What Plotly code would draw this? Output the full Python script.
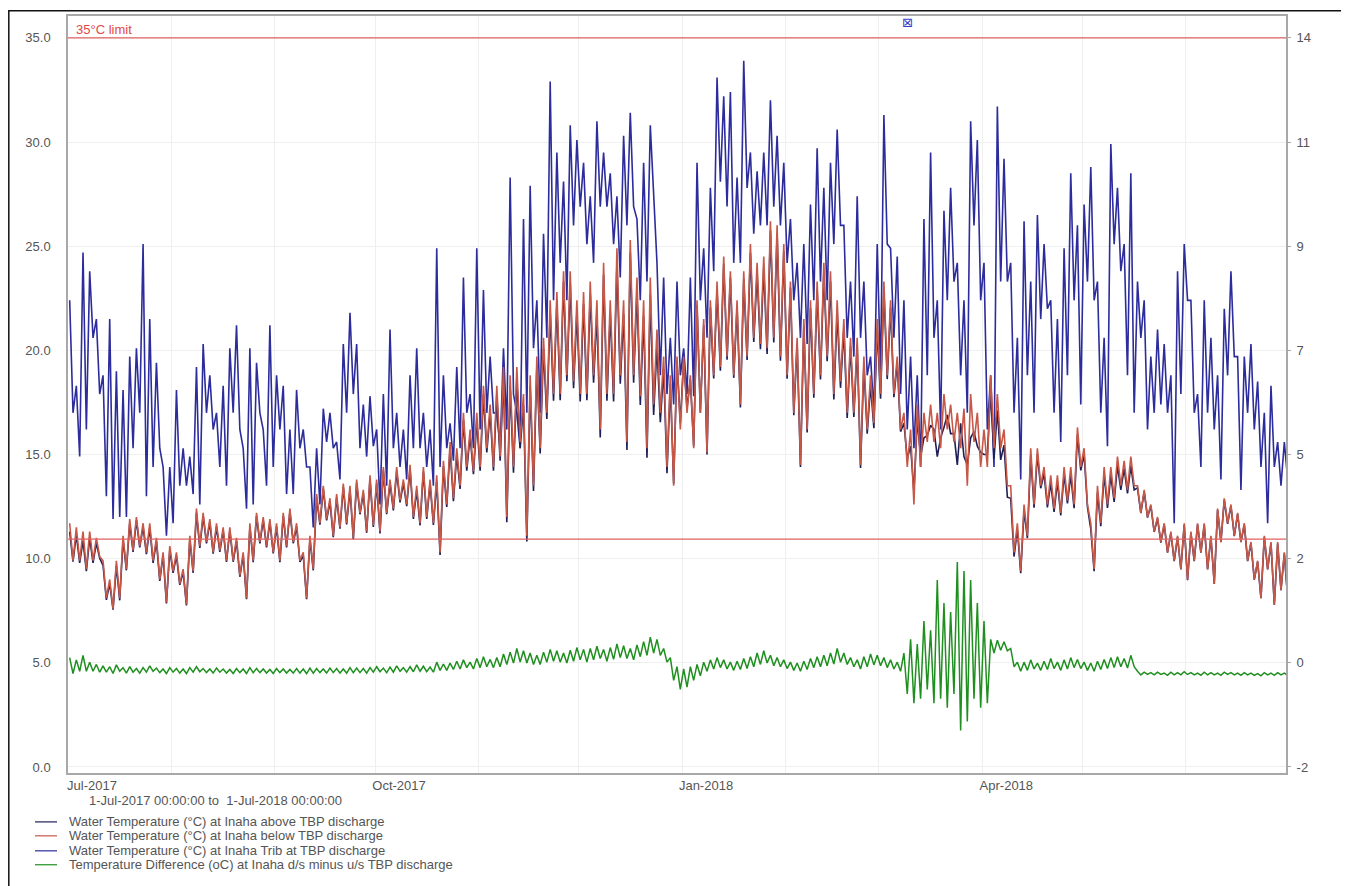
import pandas as pd
import plotly.graph_objects as go

# ---------------- data (2-day bins: daily-cycle high / low) ----------------
START = "2017-07-01"
END = "2018-07-01"
BIN_DAYS = 2

# Water Temperature (°C) at Inaha Trib at TBP discharge
trib_hi = [
    22.4, 18.3, 24.7, 23.8, 21.5, 18.8, 21.5, 19.0, 18.1, 19.7,
    20.1, 25.1, 21.5, 19.4, 14.4, 14.4, 18.1, 15.3, 14.9, 19.2,
    20.3, 18.8, 17.0, 18.3, 20.1, 21.2, 15.3, 20.1, 19.4, 16.2,
    21.2, 18.8, 18.3, 16.2, 18.1, 16.2, 14.4, 15.3, 17.2, 17.0,
    15.6, 20.3, 21.8, 20.3, 17.4, 17.8, 16.2, 17.9, 21.0, 17.0,
    16.2, 18.8, 20.1, 17.0, 16.2, 24.9, 18.8, 16.5, 19.2, 23.5,
    17.9, 24.9, 22.9, 19.7, 17.0, 20.1, 28.3, 17.0, 26.3, 27.9,
    22.4, 25.6, 32.9, 29.5, 28.1, 30.8, 30.1, 29.0, 27.4, 31.0,
    29.5, 28.5, 27.4, 30.3, 31.4, 26.3, 29.0, 30.8, 24.2, 23.5,
    20.6, 23.3, 20.1, 23.5, 29.0, 24.9, 27.8, 33.1, 32.2, 32.4,
    28.3, 33.9, 29.5, 28.6, 29.5, 32.0, 30.3, 29.0, 26.3, 24.2,
    25.1, 27.0, 29.7, 27.8, 29.0, 30.6, 26.0, 23.3, 27.4, 23.3,
    19.7, 25.1, 31.3, 24.9, 24.5, 22.4, 19.7, 18.8, 26.3, 29.5,
    22.4, 26.7, 27.8, 24.2, 22.4, 31.0, 30.1, 24.2, 18.8, 31.7,
    29.2, 24.2, 20.6, 26.2, 23.3, 26.5, 25.1, 22.4, 21.5, 24.9,
    28.5, 26.0, 27.0, 28.8, 23.3, 20.6, 29.9, 27.8, 25.1, 28.5,
    23.3, 22.4, 19.7, 21.0, 20.3, 18.8, 23.8, 25.1, 22.4, 17.9,
    22.4, 20.6, 18.8, 22.0, 23.8, 19.7, 19.7, 20.3, 18.5, 17.0,
    18.3, 15.6, 15.6,
]
trib_lo = [
    17.0, 14.9, 16.2, 20.6, 17.9, 13.0, 11.9, 12.0, 12.0, 15.3,
    17.0, 13.0, 14.4, 15.3, 11.1, 11.7, 13.5, 13.5, 13.1, 12.6,
    17.0, 16.2, 14.4, 13.5, 17.0, 16.2, 12.4, 12.6, 17.0, 13.5,
    14.4, 16.2, 13.1, 13.1, 15.3, 14.4, 11.5, 12.6, 15.6, 15.3,
    13.8, 17.0, 17.9, 15.3, 14.9, 15.4, 12.6, 13.5, 15.3, 14.4,
    13.8, 15.3, 15.3, 14.4, 13.5, 14.4, 15.3, 14.7, 15.3, 17.0,
    15.3, 16.2, 17.0, 17.0, 15.3, 16.2, 17.9, 15.3, 17.0, 20.1,
    17.0, 20.6, 22.4, 24.2, 22.4, 26.0, 26.9, 25.1, 24.2, 26.9,
    26.9, 25.1, 23.5, 26.0, 26.9, 22.4, 23.3, 27.8, 18.8, 17.9,
    17.4, 18.8, 17.9, 17.8, 22.4, 20.6, 23.8, 28.1, 26.9, 24.2,
    24.2, 27.8, 25.6, 26.0, 26.0, 26.9, 26.0, 24.2, 22.4, 20.6,
    20.3, 22.4, 23.3, 22.4, 25.1, 26.0, 20.6, 19.7, 20.6, 18.8,
    17.0, 18.8, 25.1, 20.6, 17.9, 16.2, 15.3, 14.4, 18.8, 20.6,
    16.2, 22.4, 23.3, 18.8, 17.0, 26.0, 22.4, 16.2, 14.4, 23.3,
    23.3, 17.0, 13.8, 18.8, 17.0, 21.5, 22.0, 17.0, 15.6, 18.8,
    22.4, 17.4, 23.3, 22.4, 17.0, 15.4, 25.1, 23.8, 18.8, 17.0,
    20.6, 16.2, 17.0, 17.4, 17.0, 11.7, 17.9, 22.4, 17.0, 14.4,
    17.0, 16.2, 13.8, 18.8, 19.7, 13.3, 17.0, 16.2, 14.4, 11.7,
    14.4, 13.5, 13.8,
]

# Water Temperature (°C) at Inaha below TBP discharge
below_hi = [
    11.7, 11.5, 11.3, 11.3, 11.0, 9.9, 9.0, 9.9, 11.1, 11.9,
    12.0, 11.7, 11.7, 11.0, 10.3, 10.6, 10.3, 9.5, 11.1, 12.4,
    12.2, 11.9, 11.7, 11.5, 11.5, 11.0, 10.3, 11.7, 12.2, 12.0,
    11.9, 11.7, 12.2, 12.4, 11.7, 10.3, 11.1, 13.1, 13.5, 12.9,
    13.1, 13.6, 13.5, 13.8, 13.3, 14.0, 13.8, 14.4, 13.8, 14.4,
    13.8, 14.5, 13.5, 14.4, 13.8, 14.0, 14.7, 15.6, 15.3, 17.0,
    16.2, 17.0, 18.3, 17.4, 18.3, 19.2, 18.8, 19.2, 17.9, 18.8,
    19.7, 20.6, 22.4, 22.8, 23.8, 23.8, 22.4, 22.8, 23.3, 22.4,
    24.2, 22.4, 24.9, 22.4, 25.3, 23.5, 22.4, 23.5, 21.0, 19.7,
    18.8, 19.7, 19.7, 18.8, 22.4, 21.5, 22.4, 23.3, 24.5, 23.8,
    22.4, 23.8, 25.1, 24.2, 24.5, 26.2, 26.0, 25.1, 23.3, 20.6,
    21.5, 22.4, 23.3, 24.2, 23.8, 22.4, 21.5, 20.6, 20.6, 19.7,
    18.8, 21.5, 23.3, 22.4, 19.7, 17.0, 16.2, 17.4, 17.0, 17.4,
    17.0, 17.9, 17.4, 17.0, 17.2, 17.9, 17.0, 16.2, 18.8, 17.9,
    16.2, 13.5, 11.7, 12.6, 15.3, 15.3, 14.4, 14.0, 14.0, 14.4,
    14.4, 16.3, 15.3, 11.7, 13.5, 14.4, 14.4, 14.9, 14.7, 14.9,
    13.5, 13.3, 12.6, 12.0, 11.7, 11.3, 11.1, 11.7, 11.3, 11.7,
    11.7, 11.1, 12.4, 12.9, 12.6, 12.2, 11.7, 10.8, 9.9, 11.1,
    10.8, 10.8, 10.3,
]
below_lo = [
    9.9, 9.9, 9.5, 9.9, 10.1, 8.1, 7.6, 8.1, 9.5, 10.4,
    10.6, 10.3, 9.9, 9.0, 7.9, 9.4, 8.8, 7.8, 9.4, 10.6,
    10.8, 10.3, 10.4, 9.9, 9.9, 9.2, 8.1, 9.9, 10.8, 10.6,
    10.3, 9.9, 10.6, 10.8, 9.9, 8.1, 9.5, 11.7, 11.9, 11.1,
    11.5, 11.7, 11.0, 12.2, 11.3, 11.6, 11.3, 12.2, 12.4, 12.8,
    12.6, 12.0, 11.7, 12.0, 11.7, 10.3, 12.6, 12.9, 13.5, 14.4,
    14.2, 14.4, 15.3, 14.4, 14.9, 12.0, 14.4, 15.6, 11.1, 13.5,
    15.3, 17.0, 17.9, 17.9, 18.8, 18.5, 17.9, 17.9, 18.8, 16.2,
    17.9, 17.9, 18.8, 15.6, 18.8, 17.8, 15.3, 17.4, 17.0, 14.4,
    13.5, 16.2, 17.0, 15.3, 17.0, 15.1, 18.8, 19.2, 19.7, 18.8,
    17.4, 19.7, 20.6, 20.3, 20.1, 20.6, 19.7, 18.8, 17.0, 14.5,
    16.2, 17.9, 18.8, 19.7, 17.9, 18.5, 17.0, 17.0, 14.5, 16.2,
    16.5, 17.9, 18.8, 17.9, 16.2, 14.4, 12.6, 14.4, 15.6, 15.6,
    15.3, 16.2, 15.6, 15.3, 13.5, 15.6, 14.4, 14.4, 15.3, 15.3,
    13.5, 10.3, 9.4, 11.1, 12.6, 13.5, 12.6, 12.4, 12.2, 12.8,
    12.6, 14.4, 12.6, 9.5, 11.7, 12.6, 12.9, 13.5, 13.3, 13.5,
    12.2, 12.0, 11.3, 10.8, 10.3, 9.9, 9.5, 9.0, 9.9, 10.3,
    9.5, 8.8, 10.8, 11.7, 11.1, 10.8, 9.9, 9.0, 8.1, 9.5,
    7.8, 8.5, 8.1,
]

# Temperature Difference (oC) at Inaha d/s minus u/s TBP discharge (right axis)
diff_hi = [
    0.40, 0.35, 0.45, 0.30, 0.25, 0.22, 0.20, 0.24, 0.18, 0.20,
    0.16, 0.18, 0.22, 0.17, 0.15, 0.18, 0.16, 0.15, 0.18, 0.20,
    0.16, 0.15, 0.17, 0.15, 0.14, 0.16, 0.15, 0.18, 0.16, 0.15,
    0.14, 0.16, 0.15, 0.14, 0.16, 0.15, 0.17, 0.16, 0.15, 0.17,
    0.16, 0.15, 0.18, 0.17, 0.16, 0.18, 0.20, 0.17, 0.19, 0.22,
    0.18, 0.20, 0.24, 0.21, 0.19, 0.30, 0.26, 0.28, 0.32, 0.35,
    0.30, 0.38, 0.42, 0.36, 0.40, 0.48, 0.52, 0.60, 0.55, 0.50,
    0.45, 0.52, 0.58, 0.55, 0.50, 0.56, 0.62, 0.58, 0.60, 0.65,
    0.58, 0.62, 0.70, 0.66, 0.60, 0.68, 0.75, 0.85, 0.80, 0.60,
    0.40, 0.20, 0.15, 0.20, 0.25, 0.30, 0.35, 0.40, 0.35, 0.30,
    0.32, 0.38, 0.42, 0.50, 0.55, 0.45, 0.40, 0.35, 0.30, 0.28,
    0.32, 0.38, 0.42, 0.45, 0.50, 0.60, 0.50, 0.40, 0.35, 0.42,
    0.48, 0.45, 0.40, 0.35, 0.30, 0.50, 0.80, 0.70, 1.20, 1.00,
    2.10, 1.60, 1.40, 2.50, 2.30, 2.10, 1.60, 1.20, 0.80, 0.78,
    0.75, 0.60, 0.30, 0.30, 0.35, 0.28, 0.32, 0.38, 0.30, 0.35,
    0.40, 0.36, 0.30, 0.28, 0.32, 0.36, 0.40, 0.42, 0.38, 0.45,
    0.10, 0.08, 0.07, 0.08, 0.06, 0.08, 0.07, 0.09, 0.07, 0.06,
    0.08, 0.07, 0.06, 0.08, 0.07, 0.06, 0.07, 0.06, 0.05, 0.07,
    0.06, 0.07, 0.06,
]
diff_lo = [
    0.05, 0.10, 0.10, 0.10, 0.08, 0.08, 0.05, 0.10, 0.06, 0.08,
    0.06, 0.08, 0.10, 0.07, 0.05, 0.08, 0.06, 0.05, 0.08, 0.09,
    0.07, 0.06, 0.08, 0.06, 0.05, 0.07, 0.05, 0.07, 0.07, 0.06,
    0.05, 0.07, 0.06, 0.06, 0.06, 0.05, 0.06, 0.07, 0.06, 0.07,
    0.06, 0.06, 0.07, 0.07, 0.06, 0.08, 0.09, 0.07, 0.08, 0.10,
    0.08, 0.09, 0.10, 0.09, 0.08, 0.12, 0.12, 0.14, 0.15, 0.18,
    0.15, 0.18, 0.20, 0.18, 0.20, 0.25, 0.28, 0.30, 0.28, 0.25,
    0.25, 0.30, 0.32, 0.30, 0.28, 0.32, 0.35, 0.30, 0.35, 0.38,
    0.32, 0.36, 0.40, 0.38, 0.35, 0.42, 0.45, 0.50, 0.45, 0.30,
    -0.10, -0.30, -0.25, -0.10, 0.00, 0.10, 0.15, 0.18, 0.15, 0.12,
    0.14, 0.16, 0.20, 0.25, 0.28, 0.22, 0.20, 0.16, 0.12, 0.10,
    0.14, 0.18, 0.20, 0.22, 0.26, 0.30, 0.25, 0.20, 0.15, 0.20,
    0.24, 0.22, 0.18, 0.15, 0.10, -0.40, -0.60, -0.50, -0.30, -0.60,
    -0.50, -0.70, -0.40, -1.20, -1.00, -0.50, -0.70, -0.60, 0.50, 0.56,
    0.55, 0.20, 0.10, 0.12, 0.15, 0.12, 0.14, 0.16, 0.12, 0.15,
    0.18, 0.16, 0.12, 0.10, 0.14, 0.16, 0.18, 0.20, 0.17, 0.20,
    0.02, 0.03, 0.02, 0.03, 0.01, 0.02, 0.02, 0.03, 0.02, 0.01,
    0.02, 0.02, 0.01, 0.03, 0.02, 0.01, 0.02, 0.01, 0.00, 0.02,
    0.01, 0.02, 0.01,
]

# axes / labels
left_ticks = [0, 5, 10, 15, 20, 25, 30, 35]
left_ticktext = ["0.0", "5.0", "10.0", "15.0", "20.0", "25.0", "30.0", "35.0"]
right_ticktext = ["-2", "0", "2", "5", "7", "9", "11", "14"]
right_at_left0, right_at_left35 = -2.0, 14.0          # right-axis values at left 0 and 35
month_ticks = pd.date_range(START, END, freq="MS")
month_text = ["Jul-2017", "", "", "Oct-2017", "", "", "Jan-2018", "", "", "Apr-2018", "", "", ""]
temp_limit = 35.0        # left axis
diff_limit = 3.0         # right axis
Y_RANGE = [-0.29, 36.05]
period_text = "1-Jul-2017 00:00:00 to&nbsp;&nbsp;1-Jul-2018 00:00:00"

names = {
    "above": "Water Temperature (°C) at Inaha above TBP discharge",
    "below": "Water Temperature (°C) at Inaha below TBP discharge",
    "trib": "Water Temperature (°C) at Inaha Trib at TBP discharge",
    "diff": "Temperature Difference (oC) at Inaha d/s minus u/s TBP discharge",
}
colors = {"above": "#1e1e58", "below": "#c65848", "trib": "#2c2c9c", "diff": "#1f8f1f"}
legend_order = ["above", "below", "trib", "diff"]

for arr in (trib_hi, trib_lo, below_hi, below_lo, diff_hi, diff_lo):
    assert len(arr) == 183, len(arr)


def interleave(hi, lo):
    start = pd.Timestamp(START)
    xs, ys = [], []
    for b, (h, l) in enumerate(zip(hi, lo)):
        xs += [start + pd.Timedelta(days=b * BIN_DAYS + 0.5), start + pd.Timedelta(days=b * BIN_DAYS + 1.5)]
        ys += [h, l]
    return xs, ys


x_t, y_trib = interleave(trib_hi, trib_lo)
x_b, y_below = interleave(below_hi, below_lo)
x_d, y_diff = interleave(diff_hi, diff_lo)
# u/s (above) = d/s (below) - difference
y_above = [b - d for b, d in zip(y_below, y_diff)]


def to_right(v):
    return right_at_left0 + v * (right_at_left35 - right_at_left0) / 35.0


FONT = "Liberation Sans, Arial, sans-serif"
TXT = "#555555"
FS = 13

fig = go.Figure()
fig.add_trace(go.Scatter(x=x_t, y=y_trib, mode="lines", name=names["trib"],
                         line=dict(color=colors["trib"], width=1.6)))
fig.add_trace(go.Scatter(x=x_b, y=y_above, mode="lines", name=names["above"],
                         line=dict(color=colors["above"], width=1.6)))
fig.add_trace(go.Scatter(x=x_b, y=y_below, mode="lines", name=names["below"],
                         line=dict(color=colors["below"], width=1.6)))
fig.add_trace(go.Scatter(x=x_d, y=y_diff, mode="lines", name=names["diff"], yaxis="y2",
                         line=dict(color=colors["diff"], width=1.5)))

# limit lines
fig.add_shape(type="line", xref="paper", x0=0, x1=1, yref="y", y0=temp_limit, y1=temp_limit,
              line=dict(color="#e26060", width=1.3))
fig.add_shape(type="line", xref="paper", x0=0, x1=1, yref="y2", y0=diff_limit, y1=diff_limit,
              line=dict(color="#e26060", width=1.3))
# outer frame
fig.add_shape(type="rect", xref="paper", yref="paper", x0=-0.0486, x1=1.0484, y0=-0.18, y1=1.0069,
              line=dict(color="#111111", width=1.5), layer="above")

fig.add_annotation(xref="paper", yref="y", x=0.005, y=temp_limit, text="35°C limit", showarrow=False,
                   xanchor="left", yanchor="bottom", yshift=-1,
                   font=dict(family=FONT, size=FS, color="#e04848"))
fig.add_annotation(xref="paper", yref="paper", x=0.689, y=0.991, text="⊠", showarrow=False,
                   xanchor="center", yanchor="middle",
                   font=dict(family="DejaVu Sans", size=13, color="#3a3ac8"))
fig.add_annotation(xref="paper", yref="paper", x=0.0156, y=-0.0369, text=period_text,
                   showarrow=False, xanchor="left", yanchor="middle",
                   font=dict(family=FONT, size=FS, color=TXT))

# legend (compact rows like the original)
row_y = [-0.0646, -0.0830, -0.1028, -0.1212]
for key, ry in zip(legend_order, row_y):
    fig.add_shape(type="line", xref="paper", yref="paper", x0=-0.0271, x1=-0.0090, y0=ry, y1=ry,
                  line=dict(color=colors[key], width=1.2))
    fig.add_annotation(xref="paper", yref="paper", x=-0.0008, y=ry, text=names[key], showarrow=False,
                       xanchor="left", yanchor="middle", font=dict(family=FONT, size=FS, color=TXT))

fig.update_layout(
    width=1341, height=878, autosize=False,
    margin=dict(l=60, r=63, t=6, b=113),
    paper_bgcolor="white", plot_bgcolor="white",
    font=dict(family=FONT, size=FS, color=TXT),
    showlegend=False,
    xaxis=dict(range=[START, END], tickmode="array", tickvals=month_ticks, ticktext=month_text,
               ticklabelshift=24, showgrid=True, gridcolor="#efefef", gridwidth=1,
               showline=True, linecolor="#a8a8a8", linewidth=1.5, mirror=True, ticks="",
               zeroline=False, tickfont=dict(family=FONT, size=FS, color=TXT)),
    yaxis=dict(range=Y_RANGE, tickmode="array", tickvals=left_ticks, ticktext=left_ticktext,
               showgrid=True, gridcolor="#efefef", showline=True, linecolor="#a8a8a8", linewidth=1.5,
               mirror=True, ticks="", ticklabelstandoff=13, zeroline=False,
               tickfont=dict(family=FONT, size=FS, color=TXT)),
    yaxis2=dict(overlaying="y", side="right", range=[to_right(Y_RANGE[0]), to_right(Y_RANGE[1])],
                tickmode="array", tickvals=[to_right(v) for v in left_ticks], ticktext=right_ticktext,
                showgrid=False, zeroline=False, showline=False, ticks="outside", ticklen=4,
                ticklabelstandoff=3, tickcolor="#a8a8a8", tickfont=dict(family=FONT, size=FS, color=TXT)),
)

fig.write_html("out.html")
